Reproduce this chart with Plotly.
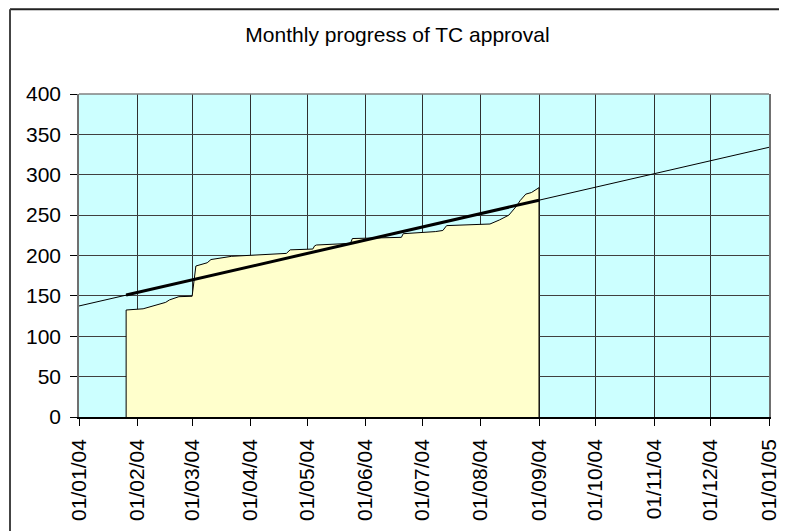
import plotly.graph_objects as go

# ---- data ----
approval_dates = [
    "2004-01-26", "2004-01-26", "2004-02-04", "2004-02-16", "2004-02-18",
    "2004-02-23", "2004-03-01", "2004-03-03", "2004-03-09", "2004-03-11",
    "2004-03-22", "2004-04-20", "2004-04-22", "2004-05-04", "2004-05-05",
    "2004-05-06", "2004-05-24", "2004-05-25", "2004-06-20", "2004-06-21",
    "2004-07-08", "2004-07-12", "2004-07-14", "2004-08-06", "2004-08-11",
    "2004-08-16", "2004-08-20", "2004-08-22", "2004-08-25", "2004-08-28",
    "2004-09-01", "2004-09-01",
]
approval_values = [
    0, 132.5, 134, 142, 145,
    149, 149.5, 187, 191, 195,
    199, 202.6, 207, 208, 212,
    213, 215, 221, 222.5, 227,
    229.6, 231, 237, 239, 244,
    250, 261, 268, 276, 278,
    284, 0,
]

trend_dates = ["2004-01-01", "2005-01-01"]
trend_values = [137.5, 334]

fit_dates = ["2004-01-26", "2004-09-01"]
fit_values = [151, 268.5]

month_ticks = [
    "2004-01-01", "2004-02-01", "2004-03-01", "2004-04-01", "2004-05-01",
    "2004-06-01", "2004-07-01", "2004-08-01", "2004-09-01", "2004-10-01",
    "2004-11-01", "2004-12-01", "2005-01-01",
]
month_labels = [
    "01/01/04", "01/02/04", "01/03/04", "01/04/04", "01/05/04",
    "01/06/04", "01/07/04", "01/08/04", "01/09/04", "01/10/04",
    "01/11/04", "01/12/04", "01/01/05",
]

title_text = "Monthly progress of TC approval"

FONT = "Arial, Liberation Sans, sans-serif"

fig = go.Figure()

fig.add_trace(go.Scatter(
    x=approval_dates, y=approval_values, mode="lines",
    line=dict(color="black", width=1),
    fill="tozeroy", fillcolor="#FFFFCC",
    showlegend=False, hoverinfo="skip",
))
fig.add_trace(go.Scatter(
    x=trend_dates, y=trend_values, mode="lines",
    line=dict(color="black", width=1),
    showlegend=False, hoverinfo="skip",
))
fig.add_trace(go.Scatter(
    x=fit_dates, y=fit_values, mode="lines",
    line=dict(color="black", width=3),
    showlegend=False, hoverinfo="skip",
))

# frame decoration (paper coordinates)
shapes = [
    dict(type="line", xref="paper", yref="paper", x0=-0.1, x1=1.2, y0=1.262, y1=1.262,
         line=dict(color="#222222", width=2)),
    dict(type="line", xref="paper", yref="paper", x0=-0.1, x1=-0.1, y0=1.262, y1=-0.4,
         line=dict(color="#444444", width=2)),
    dict(type="line", xref="paper", yref="paper", x0=0, x1=1, y0=1, y1=1,
         line=dict(color="#808080", width=1.5)),
]

fig.update_layout(
    width=779, height=523,
    margin=dict(l=71, r=18, t=86, b=114),
    paper_bgcolor="white",
    plot_bgcolor="#CCFFFF",
    font=dict(family=FONT, size=21, color="black"),
    title=dict(text=title_text, x=0.5, xanchor="center", y=0.95, yanchor="middle",
               font=dict(family=FONT, size=21, color="black")),
    shapes=shapes,
    hovermode=False,
)

fig.update_xaxes(
    type="date",
    range=["2004-01-01", "2005-01-01"],
    tickmode="array", tickvals=month_ticks, ticktext=month_labels,
    tickangle=-90,
    ticks="outside", ticklen=7, tickcolor="black",
    ticklabelstandoff=5,
    automargin=False,
    showgrid=True, gridcolor="#303030", gridwidth=1,
    showline=True, linecolor="black", linewidth=1.5,
    zeroline=False,
    tickfont=dict(family=FONT, size=21, color="black"),
)
fig.update_yaxes(
    range=[0, 400], tickmode="linear", tick0=0, dtick=50,
    ticks="outside", ticklen=7, tickcolor="black",
    ticklabelstandoff=5,
    automargin=False,
    showgrid=True, gridcolor="#404040", gridwidth=1,
    showline=True, linecolor="#707070", linewidth=1.5, mirror=True,
    zeroline=False,
    tickfont=dict(family=FONT, size=21, color="black"),
)

fig.write_html("out.html", config={"displayModeBar": False})
